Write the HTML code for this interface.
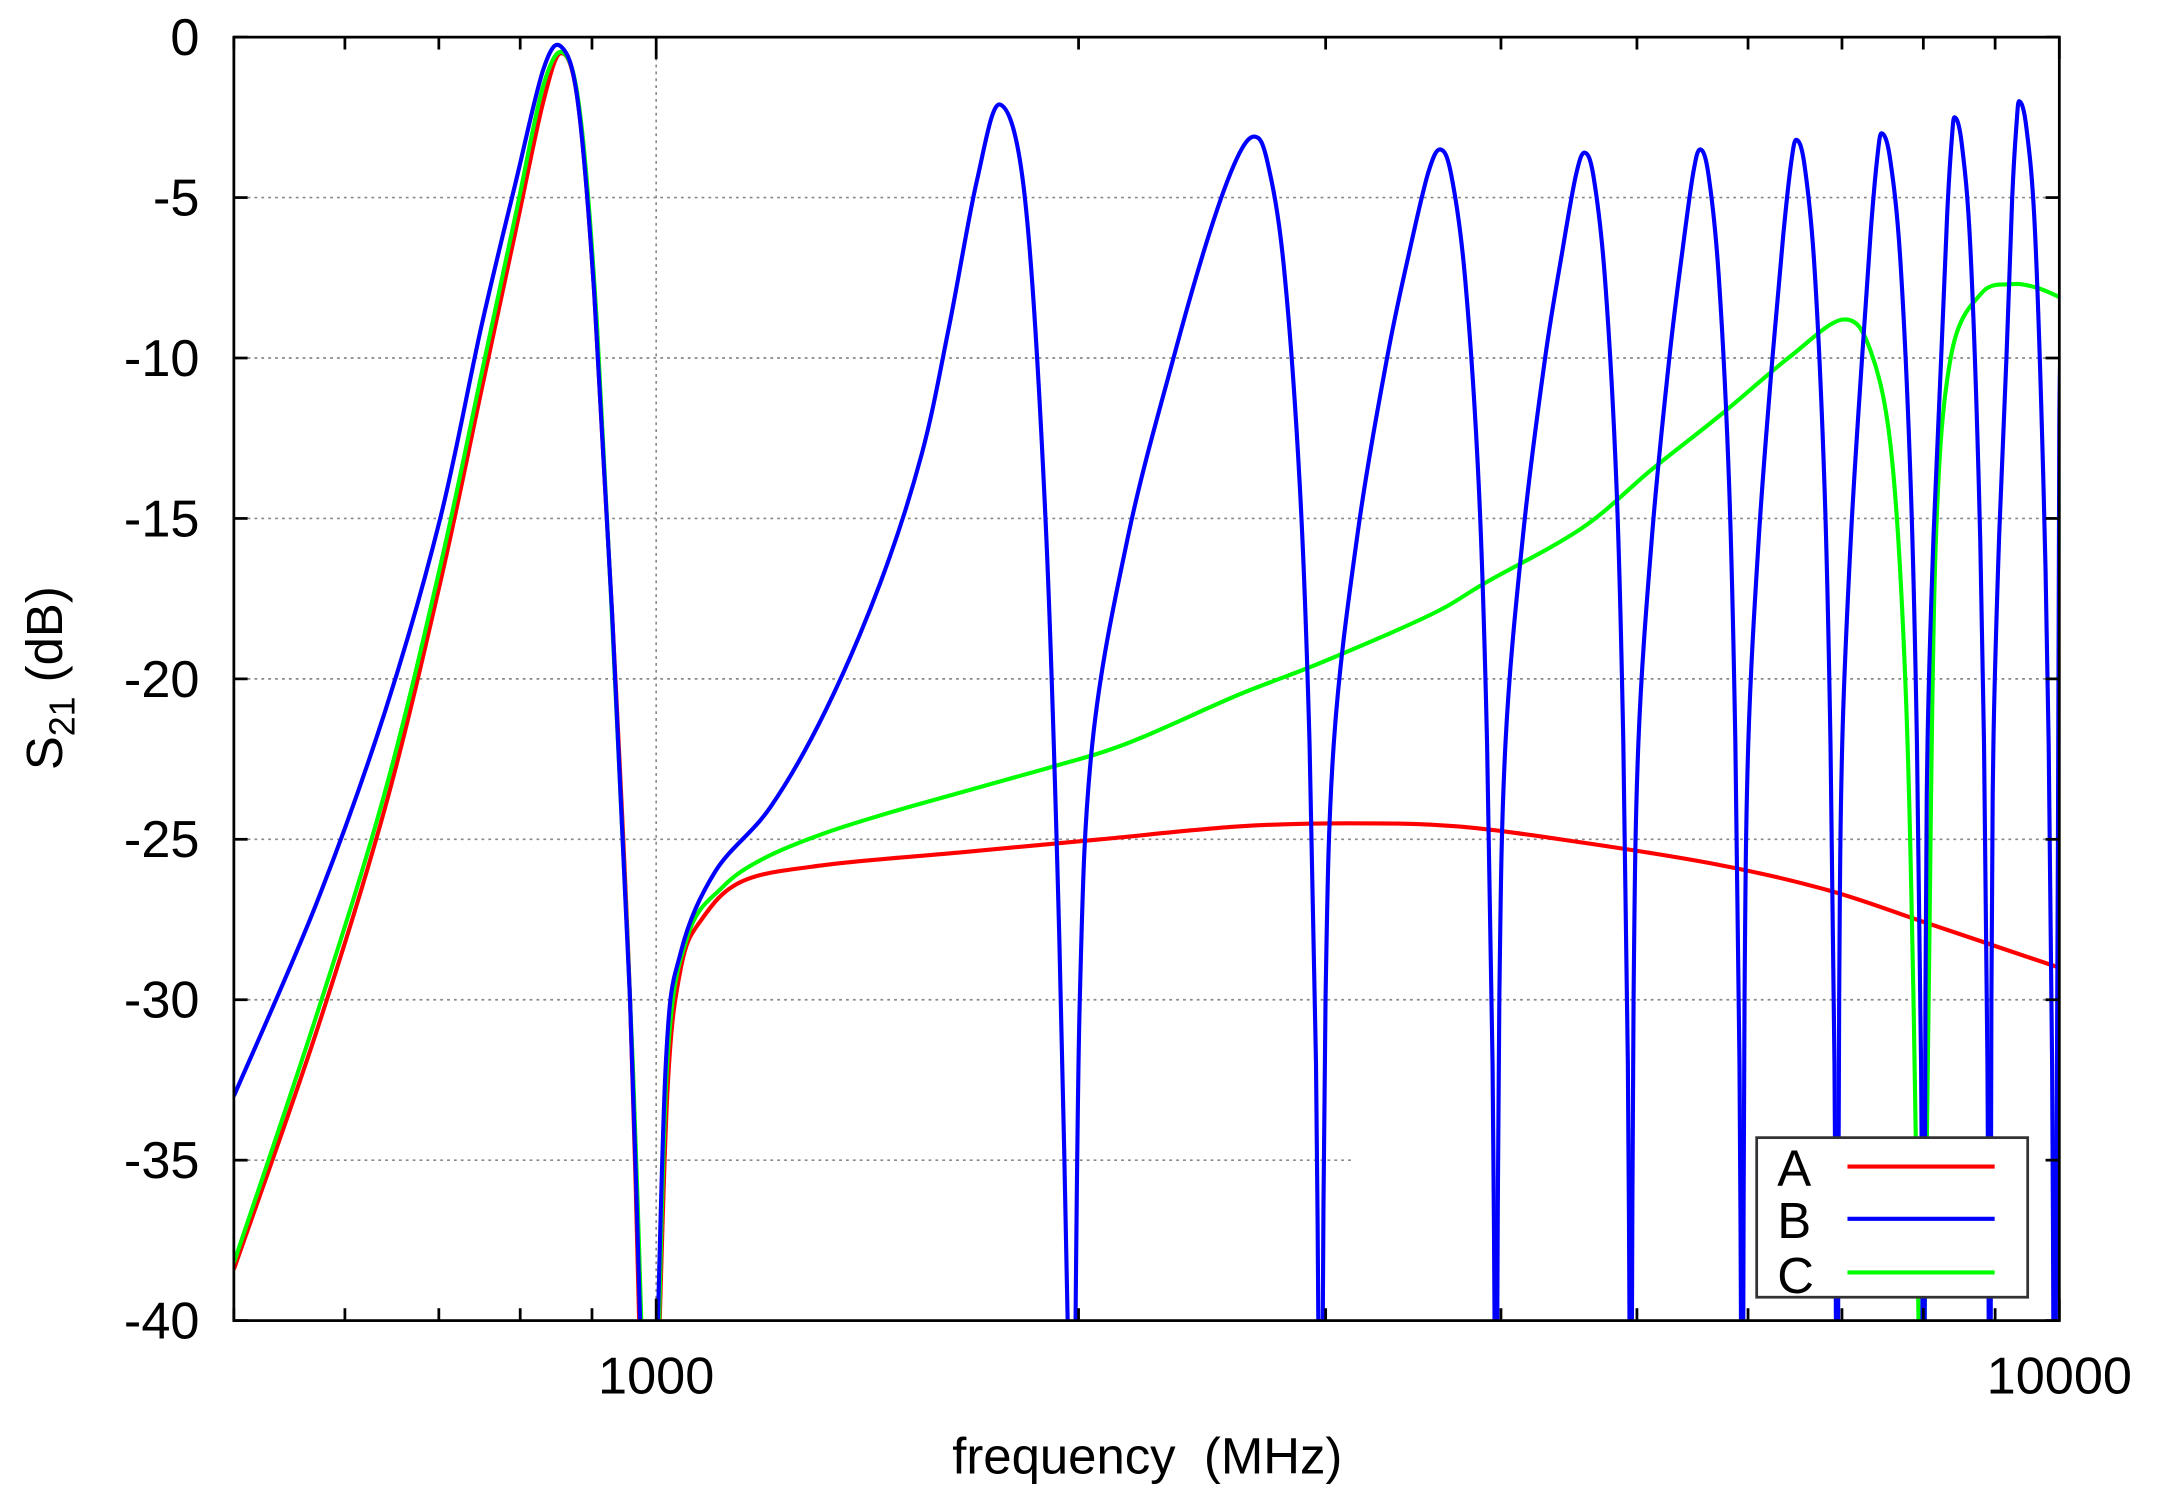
<!DOCTYPE html>
<html><head><meta charset="utf-8"><style>html,body{margin:0;padding:0;background:#fff}svg{display:block}</style></head>
<body>
<svg id="s" width="2157" height="1507" viewBox="0 0 1568 1095.5" xmlns="http://www.w3.org/2000/svg" font-family="Liberation Sans, sans-serif">
<defs><clipPath id="c"><rect x="170" y="27" width="1327" height="933"/></clipPath></defs>
<rect width="1568" height="1096" fill="#fff"/>
<g id="grid" stroke="#888" stroke-width="1.2" stroke-dasharray="2,3"></g>
<g id="curves" clip-path="url(#c)" fill="none" stroke-width="3" stroke-linejoin="round"></g>
<rect x="170" y="27" width="1327" height="933" fill="none" stroke="#000" stroke-width="2"/>
<g id="ticks" stroke="#000" stroke-width="2"></g>
<g font-size="38" fill="#000" id="lbl"></g>
<text x="834" y="1071" font-size="37" text-anchor="middle" xml:space="preserve">frequency  (MHz)</text>
<text transform="translate(45,493) rotate(-90)" font-size="37" text-anchor="middle">S<tspan font-size="26" dy="9">21</tspan><tspan dy="-9"> (dB)</tspan></text>
<g>
<rect x="1277" y="827" width="197" height="116" fill="#fff" stroke="#333" stroke-width="2"/>
<text x="1292" y="862" font-size="37">A</text>
<text x="1292" y="900" font-size="37">B</text>
<text x="1292" y="940" font-size="37">C</text>
<line x1="1343" y1="848" x2="1450" y2="848" stroke="#f00" stroke-width="3"/>
<line x1="1343" y1="886" x2="1450" y2="886" stroke="#00f" stroke-width="3"/>
<line x1="1343" y1="925" x2="1450" y2="925" stroke="#0f0" stroke-width="3"/>
</g>
</svg>
<script>
var NS="http://www.w3.org/2000/svg";
function el(p,t,a,txt){var e=document.createElementNS(NS,t);for(var k in a)e.setAttribute(k,a[k]);if(txt!=null)e.textContent=txt;document.getElementById(p).appendChild(e);return e;}
function Y(d){return 27+(-d)*933/40;}
function X(f){return 477+(Math.log10(f)-3)*1020;}
for(var d=-5;d>=-35;d-=5){var xe=(d==-35)?983:1497;el("grid","line",{x1:170,y1:Y(d),x2:xe,y2:Y(d)});}
el("grid","line",{x1:477,y1:27,x2:477,y2:960});
for(var d=0;d>=-40;d-=5){el("ticks","line",{x1:170,y1:Y(d),x2:180,y2:Y(d)});el("ticks","line",{x1:1497,y1:Y(d),x2:1487,y2:Y(d)});
el("lbl","text",{x:145,y:Y(d)+13,"text-anchor":"end"},d==0?"0":String(d));}
var fs=[500,600,700,800,900,1000,2000,3000,4000,5000,6000,7000,8000,9000,10000];
fs.forEach(function(f){var x=X(f);var L=(f==1000||f==10000)?16:9;el("ticks","line",{x1:x,y1:960,x2:x,y2:960-L});el("ticks","line",{x1:x,y1:27,x2:x,y2:27+L});});
el("lbl","text",{x:477,y:1013,"text-anchor":"middle"},"1000");
el("lbl","text",{x:1497,y:1013,"text-anchor":"middle"},"10000");
function path(pts){var s="M"+pts[0][0]+","+Y(pts[0][1]);
for(var i=0;i<pts.length-1;i++){var p0=pts[Math.max(0,i-1)],p1=pts[i],p2=pts[i+1],p3=pts[Math.min(pts.length-1,i+2)];
var a=[p1[0],Y(p1[1])],b=[p2[0],Y(p2[1])],q0=[p0[0],Y(p0[1])],q3=[p3[0],Y(p3[1])];
var c1=[a[0]+(b[0]-q0[0])/6,a[1]+(b[1]-q0[1])/6],c2=[b[0]-(q3[0]-a[0])/6,b[1]-(q3[1]-a[1])/6];
s+=" C"+c1+" "+c2+" "+b;}return s;}
function draw(pts,col){el("curves","path",{d:path(pts),stroke:col});}
function lobe(n0,xp,n1,P){var pts=[];var w=xp-n0;
[[0,-44],[0.03,-30],[0.1,-22],[0.3,-15.5],[0.55,-10],[0.75,P-3],[0.9,P-0.7],[1,P]].forEach(function(t){pts.push([n0+t[0]*w,t[1]]);});
w=n1-xp;[[0.2,P-0.8],[0.45,P-4],[0.7,-14],[0.85,-22],[0.95,-32],[1,-44]].forEach(function(t){pts.push([xp+t[0]*w,t[1]]);});return pts;}
draw([[170,-38.4],[230,-31],[280,-24],[320,-17],[350,-11],[375,-6],[395,-2],[408,-0.5],[420,-2],[432,-8],[445,-18],[458,-30],[467,-44]],"#f00");
draw([[477,-44],[485,-33],[495,-29],[510,-27.5],[540,-26.3],[600,-25.8],[700,-25.4],[800,-25],[900,-24.6],[980,-24.5],[1060,-24.6],[1150,-25.1],[1250,-25.8],[1330,-26.6],[1400,-27.6],[1497,-29]],"#f00");
draw([[170,-38.2],[230,-30.5],[280,-23.5],[320,-16.5],[350,-10.5],[375,-5.5],[395,-1.5],[410,-0.5],[422,-2.5],[434,-9],[447,-20],[460,-32],[469,-44]],"#0f0");
draw([[477,-44],[485,-32],[500,-28],[525,-26.5],[555,-25.6],[600,-24.8],[660,-24],[760,-22.8],[820,-22],[900,-20.5],[960,-19.5],[1040,-18],[1080,-17],[1150,-15.3],[1200,-13.5],[1250,-11.8],[1300,-10],[1340,-8.8],[1360,-9.8],[1375,-13],[1385,-20],[1391,-30],[1396,-44]],"#0f0");
draw([[1398,-44],[1402,-30],[1407,-16],[1418,-10],[1440,-8],[1462,-7.7],[1480,-7.8],[1497,-8.1]],"#0f0");
draw([[170,-33],[230,-27],[280,-21],[320,-15],[350,-9],[375,-4.5],[395,-1],[408,-0.3],[420,-2],[432,-8],[445,-18],[458,-30],[468,-44]],"#00f");
draw([[476,-44],[484,-32],[495,-28.5],[520,-26],[560,-24],[600,-21],[640,-17],[670,-13],[690,-9],[710,-4.5],[727,-2.1],[745,-5],[760,-15],[770,-28],[778,-44]],"#00f");
[[781,912,959,-3.1],[961,1047,1087,-3.5],[1088,1152,1185,-3.6],[1186,1236,1266,-3.5],[1267,1306,1335,-3.2],[1336,1368,1398,-3],[1399,1421,1446,-2.5],[1447,1468,1493,-2]].forEach(function(l){draw(lobe(l[0],l[1],l[2],l[3]),"#00f");});
draw([[1494,-44],[1496,-25],[1497,-12],[1499,-8]],"#00f");
</script>
</body></html>
